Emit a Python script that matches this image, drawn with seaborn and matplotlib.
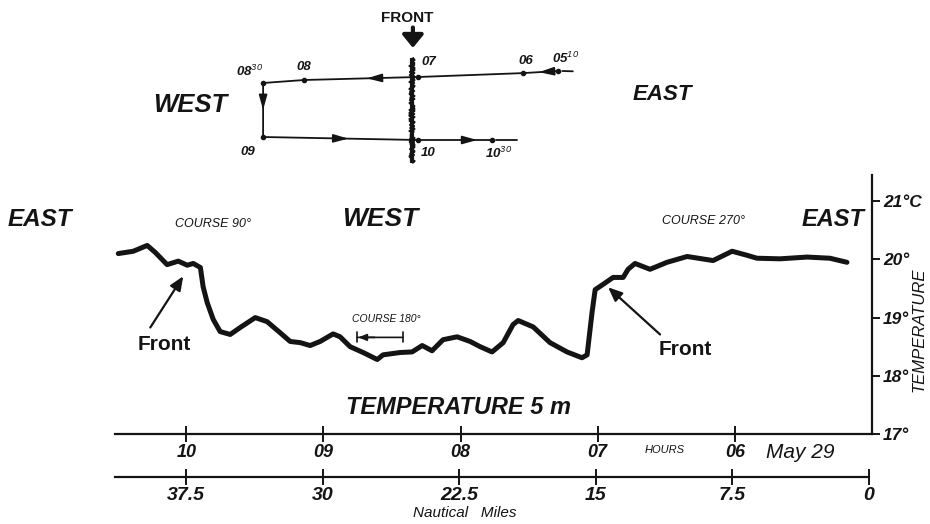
import matplotlib
matplotlib.use("Agg")
import matplotlib.pyplot as plt
import seaborn as sns
import pandas as pd

# ---------------- data ----------------
# temperature trace at 5 m, x = nautical miles (from end of run), y = deg C
miles = [41.22, 40.40, 39.64, 39.20, 38.55, 37.94, 37.45, 37.12, 36.73, 36.58,
         36.36, 36.03, 35.65, 35.10, 34.55, 33.73, 33.08, 32.37, 31.82, 31.27,
         30.73, 30.18, 29.47, 29.09, 28.54, 27.83, 27.06, 26.74, 25.81, 25.15,
         24.60, 24.06, 23.46, 22.69, 21.98, 21.43, 20.78, 20.17, 19.63, 19.35,
         18.53, 17.61, 16.68, 15.86, 15.58, 15.31, 15.14, 14.71, 14.16, 13.61,
         13.34, 12.96, 12.14, 11.21, 10.11, 8.69, 7.65, 6.83, 6.29, 5.03,
         3.55, 2.30, 1.37]
temp = [20.10, 20.14, 20.24, 20.12, 19.91, 19.97, 19.90, 19.93, 19.86, 19.53,
        19.26, 18.97, 18.76, 18.71, 18.83, 19.00, 18.93, 18.74, 18.59, 18.57,
        18.52, 18.59, 18.72, 18.67, 18.50, 18.40, 18.28, 18.36, 18.40, 18.41,
        18.52, 18.43, 18.62, 18.67, 18.59, 18.50, 18.41, 18.57, 18.88, 18.95,
        18.84, 18.57, 18.41, 18.31, 18.36, 19.09, 19.48, 19.57, 19.69, 19.69,
        19.83, 19.93, 19.83, 19.95, 20.05, 19.98, 20.14, 20.07, 20.02, 20.01,
        20.04, 20.02, 19.95]

hour_ticks = [37.5, 30, 22.5, 15, 7.5]
hour_labels = ["10", "09", "08", "07", "06"]
mile_ticks = [37.5, 30, 22.5, 15, 7.5, 0]
mile_labels = ["37.5", "30", "22.5", "15", "7.5", "0"]
temp_ticks = [17, 18, 19, 20, 21]
temp_labels = ["17°", "18°", "19°", "20°", "21°C"]

# ship track schematic (east-west position, north-south position, schematic units)
track_labels = ["05$^{10}$", "06", "07", "08", "08$^{30}$", "09", "10", "10$^{30}$"]
track_x = [9.09, 8.09, 5.09, 1.83, 0.66, 0.66, 5.09, 7.20]
track_y = [3.30, 3.23, 3.10, 3.00, 2.90, 1.10, 1.00, 1.00]
front_x = 4.91
front_y = [0.23, 3.73]

# ---------------- style ----------------
sns.set_theme(style="white")
plt.rcParams["font.family"] = ["Liberation Sans", "DejaVu Sans"]
plt.rcParams["mathtext.fontset"] = "custom"
plt.rcParams["mathtext.rm"] = "Liberation Sans:italic"
plt.rcParams["mathtext.it"] = "Liberation Sans:italic"
INK = "#141414"

W, H = 930, 524
fig = plt.figure(figsize=(9.3, 5.24), dpi=100)
fig.patch.set_facecolor("white")


def fx(px):
    return px / W


def fy(py):
    return 1 - py / H


def ftext(x, y, s, size, weight="bold", style="italic", **kw):
    fig.text(fx(x), fy(y), s, ha="center", va="center", fontsize=size,
             fontweight=weight, fontstyle=style, color=INK, **kw)


# ---------------- main temperature axes ----------------
XMAX = 41.4
LEFT_PX, RIGHT_PX = 115, 872
ax = fig.add_axes([fx(LEFT_PX), fy(434), fx(RIGHT_PX) - fx(LEFT_PX), fy(175) - fy(434)])
ax.set_facecolor("none")
df = pd.DataFrame({"miles": miles, "temp": temp})
sns.lineplot(data=df, x="miles", y="temp", ax=ax, color=INK, lw=3.6, sort=False)
for ln in ax.lines:
    ln.set_solid_capstyle("round")
    ln.set_solid_joinstyle("round")
    ln.set_clip_on(False)
ax.set_xlim(XMAX, 0)
ax.set_ylim(17, 21.45)
ax.grid(False)
for s in ["left", "top"]:
    ax.spines[s].set_visible(False)
for s in ["right", "bottom"]:
    ax.spines[s].set_color(INK)
    ax.spines[s].set_linewidth(1.6)

ax.yaxis.tick_right()
ax.set_yticks(temp_ticks, temp_labels)
ax.tick_params(axis="y", direction="out", length=6, width=1.4, pad=2,
               labelsize=12.5, colors=INK, right=True, left=False)
ax.set_xticks(hour_ticks, hour_labels)
ax.tick_params(axis="x", direction="inout", length=12, width=1.4, pad=1,
               labelsize=13, colors=INK, bottom=True)
for lab in ax.get_xticklabels() + ax.get_yticklabels():
    lab.set_fontstyle("italic")
    lab.set_fontweight("bold")
ax.set_xlabel("")
ax.set_ylabel("TEMPERATURE", fontsize=12, fontstyle="italic", color=INK, rotation=90)
ax.yaxis.set_label_position("right")
ax.yaxis.set_label_coords(fx(919), fy(330), transform=fig.transFigure)
ax.yaxis.label.set_ha("center")
ax.yaxis.label.set_va("center")

# front arrows
arrow_kw = dict(arrowstyle="-|>,head_length=0.7,head_width=0.3", color=INK, lw=1.6,
                mutation_scale=12, shrinkA=0, shrinkB=0)
ax.annotate("", xy=(37.67, 19.71), xytext=(39.47, 18.83), arrowprops=arrow_kw,
            annotation_clip=False)
ax.text(38.71, 18.53, "Front", ha="center", va="center", fontsize=15,
        color=INK, fontweight="bold")
ax.annotate("", xy=(14.43, 19.52), xytext=(11.59, 18.71), arrowprops=arrow_kw)
ax.text(10.22, 18.45, "Front", ha="center", va="center", fontsize=15,
        color=INK, fontweight="bold")

# course 180 double arrow
ax.annotate("", xy=(28.16, 18.66), xytext=(25.64, 18.66),
            arrowprops=dict(arrowstyle="|-|,widthA=0.3,widthB=0.3", color=INK, lw=1.2,
                            shrinkA=0, shrinkB=0))
ax.annotate("", xy=(28.10, 18.66), xytext=(27.2, 18.66),
            arrowprops=dict(arrowstyle="-|>,head_length=0.5,head_width=0.2", color=INK,
                            lw=1.2, mutation_scale=10, shrinkA=0, shrinkB=0))
ax.text(26.57, 18.97, "COURSE 180°", ha="center", va="center", fontsize=7.5,
        fontstyle="italic", color=INK)

# ---------------- nautical miles axis ----------------
ax2 = fig.add_axes([fx(LEFT_PX), fy(477), fx(RIGHT_PX - 3) - fx(LEFT_PX), 0.001])
ax2.set_facecolor("none")
ax2.set_xlim(XMAX, 0)
ax2.set_yticks([])
for s in ["left", "top", "right"]:
    ax2.spines[s].set_visible(False)
ax2.spines["bottom"].set_color(INK)
ax2.spines["bottom"].set_linewidth(1.6)
ax2.set_xticks(mile_ticks, mile_labels)
ax2.tick_params(axis="x", direction="inout", length=12, width=1.4, pad=1,
                labelsize=14, colors=INK, bottom=True)
for lab in ax2.get_xticklabels():
    lab.set_fontstyle("italic")
    lab.set_fontweight("bold")
ax2.set_xlabel("Nautical   Miles", fontsize=11, fontstyle="italic", color=INK)
ax2.xaxis.set_label_coords(fx(465), fy(513), transform=fig.transFigure)
ax2.xaxis.label.set_va("center")

# ---------------- track schematic ----------------
axd = fig.add_axes([fx(240), fy(170), fx(590) - fx(240), fy(5) - fy(170)])
axd.set_xlim(0, 10)
axd.set_ylim(0, 5.5)
axd.axis("off")
axd.plot(track_x, track_y, color=INK, lw=1.3)
axd.plot(track_x, track_y, "o", color=INK, ms=3)
# short dashes beyond ends
axd.plot([track_x[0] + 0.12, track_x[0] + 0.42], [track_y[0], track_y[0] - 0.01], color=INK, lw=1.3)
axd.plot([track_x[-1] + 0.12, track_x[-1] + 0.7], [track_y[-1], track_y[-1]], color=INK, lw=1.3)
# direction arrows along track segments
head = dict(arrowstyle="-|>,head_length=0.9,head_width=0.25", color=INK, lw=1.2,
            mutation_scale=10, shrinkA=0, shrinkB=0)
for i, f in [(0, 0.55), (2, 0.45), (4, 0.5), (5, 0.55), (6, 0.8)]:
    x0, y0 = track_x[i], track_y[i]
    x1, y1 = track_x[i + 1], track_y[i + 1]
    px, py = x0 + (x1 - x0) * f, y0 + (y1 - y0) * f
    dx, dy = (x1 - x0), (y1 - y0)
    n = (dx ** 2 + dy ** 2) ** 0.5
    axd.annotate("", xy=(px, py), xytext=(px - dx / n * 0.35, py - dy / n * 0.35), arrowprops=head)
# labels
offsets = [(5, 9), (2, 9), (8, 11), (0, 9), (-10, 8), (-11, -11), (7, -9), (5, -10)]
for lab, x, y, (ox, oy) in zip(track_labels, track_x, track_y, offsets):
    axd.annotate(lab, xy=(x, y), xytext=(ox, oy), textcoords="offset points",
                 ha="center", va="center", fontsize=9.5, fontstyle="italic",
                 fontweight="bold", color=INK)
# the front (thick ragged band)
axd.plot([front_x, front_x], front_y, color=INK, lw=3.0, solid_capstyle="butt")
fl, = axd.plot([front_x, front_x], front_y, color=INK, lw=1.6, solid_capstyle="butt")
fl.set_sketch_params(scale=2.5, length=3.0, randomness=3.0)
axd.annotate("", xy=(4.94, 4.07), xytext=(4.94, 4.75),
             arrowprops=dict(arrowstyle="-|>,head_length=0.55,head_width=0.45", color=INK,
                             lw=3, mutation_scale=14, shrinkA=0, shrinkB=0))
axd.text(4.77, 5.07, "FRONT", ha="center", va="center", fontsize=11,
         fontweight="bold", color=INK)

# ---------------- free labels ----------------
ftext(190, 105, "WEST", 18.5)
ftext(662, 95, "EAST", 16)
ftext(40, 220, "EAST", 17.5)
ftext(380, 219, "WEST", 19)
ftext(833, 220, "EAST", 17)
ftext(213, 224, "COURSE 90°", 9, weight="normal")
ftext(703, 221, "COURSE 270°", 9, weight="normal")
ftext(458, 407, "TEMPERATURE 5 m", 17)
ftext(665, 450, "HOURS", 8, weight="normal")
ftext(800, 452, "May 29", 15, weight="normal")

fig.savefig("out.png", dpi=100, facecolor="white")
